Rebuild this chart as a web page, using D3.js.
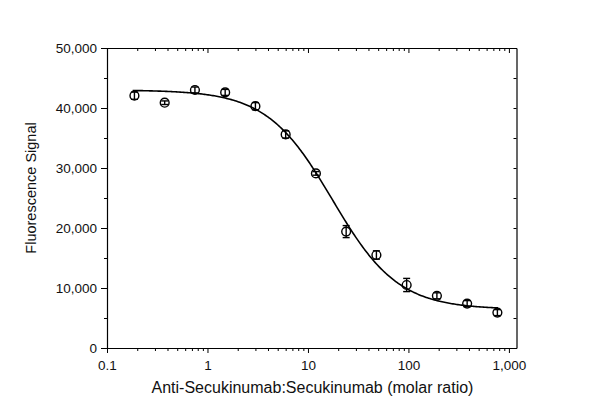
<!DOCTYPE html>
<html><head><meta charset="utf-8">
<script src="https://cdn.jsdelivr.net/npm/d3@7"></script>
<style>body{margin:0;background:#fff;} svg{display:block;font-family:"Liberation Sans",Arial,sans-serif;}</style>
</head><body><svg id="c" width="600" height="418"></svg>
<script>
// Data
const ratios = [0.1875, 0.375, 0.75, 1.5, 3, 6, 12, 24, 48, 96, 192, 384, 768];
const signal = [42050, 40880, 43000, 42600, 40300, 35600, 29100, 19400, 15500, 10500, 8700, 7400, 5900];
const errors = [600, 300, 500, 500, 600, 600, 300, 1000, 700, 1100, 500, 500, 500];
// 4PL fit parameters (top, bottom, EC50, Hill)
const fitTop = 43000, fitBottom = 6450, fitEC50 = 17.5, fitHill = 1.33;
const xTickValues = [0.1, 1, 10, 100, 1000];
const yTickValues = [0, 10000, 20000, 30000, 40000, 50000];
const xTitle = "Anti-Secukinumab:Secukinumab (molar ratio)";
const yTitle = "Fluorescence Signal";

const svg = d3.select("#c");
const L = 107, R = 516.5, T = 48, B = 348;
const x = d3.scaleLog().domain([0.1, 1190]).range([L, R]);
const y = d3.scaleLinear().domain([0, 50000]).range([B, T]);
const fmt = d3.format(",");

// minor ticks
const xMinor = [];
for (let d = 0.1; d < 1000; d *= 10) for (let k = 2; k <= 9; k++) xMinor.push(d * k);
const yMinor = d3.range(5000, 50000, 10000);

// bottom axis
const gb = svg.append("g").attr("transform", `translate(0,${B})`)
  .call(d3.axisBottom(x).tickValues(xTickValues).tickFormat(fmt).tickSize(5).tickSizeOuter(0));
gb.selectAll(".tick text").attr("dy", "0.71em").attr("y", 12.5);
svg.append("g").attr("transform", `translate(0,${B})`)
  .call(d3.axisBottom(x).tickValues(xMinor).tickFormat("").tickSize(3).tickSizeOuter(0))
  .select(".domain").remove();
// top axis (inward)
svg.append("g").attr("transform", `translate(0,${T})`)
  .call(d3.axisBottom(x).tickValues(xTickValues).tickFormat("").tickSize(5).tickSizeOuter(0));
svg.append("g").attr("transform", `translate(0,${T})`)
  .call(d3.axisBottom(x).tickValues(xMinor).tickFormat("").tickSize(3).tickSizeOuter(0))
  .select(".domain").remove();
// left axis
const gl = svg.append("g").attr("transform", `translate(${L},0)`)
  .call(d3.axisLeft(y).tickValues(yTickValues).tickFormat(fmt).tickSize(6).tickSizeOuter(0));
gl.selectAll(".tick text").attr("x", -10);
svg.append("g").attr("transform", `translate(${L},0)`)
  .call(d3.axisLeft(y).tickValues(yMinor).tickFormat("").tickSize(3).tickSizeOuter(0))
  .select(".domain").remove();
// right axis (inward)
svg.append("g").attr("transform", `translate(${R},0)`)
  .call(d3.axisLeft(y).tickValues(yTickValues.concat(yMinor)).tickFormat("").tickSize(3).tickSizeOuter(0));

svg.selectAll(".domain").attr("stroke", "#000").attr("stroke-width", 1.2);
svg.selectAll(".tick line").attr("stroke", "#000").attr("stroke-width", 1);
svg.selectAll(".tick text").attr("font-size", 13.5).attr("fill", "#111")
  .attr("font-family", "'Liberation Sans',Arial,sans-serif");

// fit curve
const curvePts = d3.range(0, 301).map(i => {
  const xv = Math.pow(10, Math.log10(0.18) + i / 300 * (Math.log10(780) - Math.log10(0.18)));
  return [xv, fitBottom + (fitTop - fitBottom) / (1 + Math.pow(xv / fitEC50, fitHill))];
});
svg.append("path").datum(curvePts)
  .attr("d", d3.line().x(d => x(d[0])).y(d => y(d[1])))
  .attr("fill", "none").attr("stroke", "#000").attr("stroke-width", 1.6);

// error bars
const eb = svg.append("g").attr("stroke", "#000").attr("stroke-width", 1.4);
ratios.forEach((r, i) => {
  const cx = x(r), y1 = y(signal[i] + errors[i]), y0 = y(signal[i] - errors[i]);
  eb.append("line").attr("x1", cx).attr("x2", cx).attr("y1", y1).attr("y2", y0);
  eb.append("line").attr("x1", cx - 3.5).attr("x2", cx + 3.5).attr("y1", y1).attr("y2", y1);
  eb.append("line").attr("x1", cx - 3.5).attr("x2", cx + 3.5).attr("y1", y0).attr("y2", y0);
});
// points
svg.append("g").selectAll("circle").data(ratios).join("circle")
  .attr("cx", d => x(d)).attr("cy", (d, i) => y(signal[i])).attr("r", 4.4)
  .attr("fill", "none").attr("stroke", "#000").attr("stroke-width", 1.4);

// titles
svg.append("text").attr("x", 312.5).attr("y", 393).attr("text-anchor", "middle")
  .attr("font-size", 16).attr("fill", "#111").text(xTitle);
svg.append("text").attr("transform", "translate(36,188) rotate(-90)").attr("text-anchor", "middle")
  .attr("font-size", 14.5).attr("fill", "#111").text(yTitle);
</script></body></html>
